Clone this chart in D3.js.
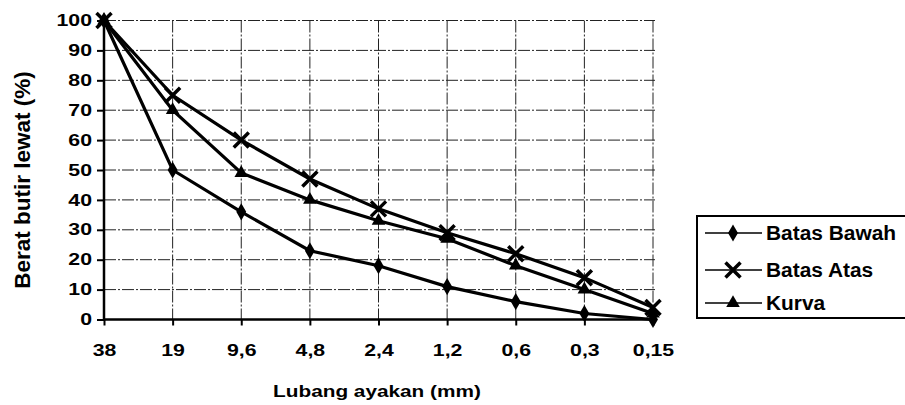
<!DOCTYPE html>
<html>
<head>
	<script src="https://d3js.org/d3.v7.min.js"></script>
	<style>
		body { margin: 0; background: #fff; }
		text { font-family: "Liberation Sans", Arial, sans-serif; font-weight: bold; fill: #000; }
	</style>
</head>
<body>
	<div class="chart"></div>
	<script>
		// data
		var sieves = ["38", "19", "9,6", "4,8", "2,4", "1,2", "0,6", "0,3", "0,15"];
		var batasBawah = [100, 50, 36, 23, 18, 11, 6, 2, 0];
		var batasAtas = [100, 75, 60, 47, 37, 29, 22, 14, 4];
		var kurva = [100, 70, 49, 40, 33, 27, 18, 10, 2];
		var yTicks = [0, 10, 20, 30, 40, 50, 60, 70, 80, 90, 100];
		var seriesNames = ["Batas Bawah", "Batas Atas", "Kurva"];
		var markers = ["diamond", "cross", "triangle"];

		var w = 905, h = 405;
		var svg = d3.select(".chart").append("svg")
			.attr("width", w)
			.attr("height", h);

		var x = d3.scalePoint().domain(sieves).range([104, 653]);
		var y = d3.scaleLinear().domain([0, 100]).range([319.5, 20.5]);

		// the scanned chart has its text stretched sideways
		function stretch(sel, k) {
			sel.each(function() {
				var t = d3.select(this);
				var x0 = +t.attr("x") || 0;
				t.attr("x", x0 / k)
					.attr("transform", "scale(" + k + ",1)");
			});
		}

		// gridlines
		var grid = svg.append("g").attr("class", "grid");
		grid.selectAll(".hg")
			.data(yTicks.filter(function(d) { return d > 0; }))
			.enter().append("line")
			.attr("x1", 104).attr("x2", 655)
			.attr("y1", function(d) { return y(d); })
			.attr("y2", function(d) { return y(d); })
			.attr("stroke", "#222")
			.attr("stroke-width", 1)
			.attr("stroke-dasharray", "12,2,2,2");
		grid.selectAll(".vg")
			.data(sieves.slice(1))
			.enter().append("line")
			.attr("x1", function(d) { return x(d); })
			.attr("x2", function(d) { return x(d); })
			.attr("y1", y(100)).attr("y2", y(0))
			.attr("stroke", "#222")
			.attr("stroke-width", 1)
			.attr("stroke-dasharray", "12,2,2,2");

		// axes
		var yAxis = svg.append("g")
			.attr("transform", "translate(104,0)")
			.call(d3.axisLeft(y).tickValues(yTicks).tickSize(7).tickPadding(5));
		var xAxis = svg.append("g")
			.attr("transform", "translate(0," + y(0) + ")")
			.call(d3.axisBottom(x).tickSize(6).tickPadding(19));
		[yAxis, xAxis].forEach(function(a) {
			a.select(".domain").attr("stroke", "#000").attr("stroke-width", 2.5);
			a.selectAll(".tick line").attr("stroke", "#000").attr("stroke-width", 2);
			a.selectAll(".tick text")
				.style("font-size", "16px")
				.style("font-family", "Liberation Sans, Arial, sans-serif")
				.style("font-weight", "bold");
			stretch(a.selectAll(".tick text"), 1.33);
		});
		xAxis.select(".domain").attr("d", "M104,0H655");
		yAxis.select(".domain").attr("d", "M0," + (y(0) + 1) + "V" + y(100));

		// titles
		var xTitle = svg.append("text")
			.attr("x", 377).attr("y", 397)
			.attr("text-anchor", "middle")
			.style("font-size", "16.5px")
			.text("Lubang ayakan (mm)");
		stretch(xTitle, 1.26);
		svg.append("text")
			.attr("transform", "translate(30,180) rotate(-90)")
			.attr("text-anchor", "middle")
			.style("font-size", "22.5px")
			.text("Berat butir lewat (%)");

		function drawMarker(g, type, cx, cy) {
			if (type == "diamond") {
				g.append("path")
					.attr("d", d3.symbol().type(d3.symbolDiamond).size(85)())
					.attr("transform", "translate(" + cx + "," + cy + ")")
					.attr("fill", "#000");
			} else if (type == "cross") {
				g.append("path")
					.attr("d", "M-7.5,-7.5L7.5,7.5M-7.5,7.5L7.5,-7.5")
					.attr("transform", "translate(" + cx + "," + cy + ")")
					.attr("stroke", "#000")
					.attr("stroke-width", 3.5)
					.attr("fill", "none");
			} else {
				g.append("path")
					.attr("d", d3.symbol().type(d3.symbolTriangle).size(80)())
					.attr("transform", "translate(" + cx + "," + cy + ")")
					.attr("fill", "#000");
			}
		}

		// series
		var line = d3.line()
			.x(function(d, i) { return x(sieves[i]); })
			.y(function(d) { return y(d); });
		[batasBawah, batasAtas, kurva].forEach(function(vals, s) {
			var g = svg.append("g").attr("class", "series");
			g.append("path")
				.attr("d", line(vals))
				.attr("fill", "none")
				.attr("stroke", "#000")
				.attr("stroke-width", 3.2);
			vals.forEach(function(v, i) {
				drawMarker(g, markers[s], x(sieves[i]), y(v));
			});
		});

		// legend
		var lg = svg.append("g").attr("class", "legend");
		lg.append("rect")
			.attr("x", 697).attr("y", 216)
			.attr("width", 220).attr("height", 102)
			.attr("fill", "#fff")
			.attr("stroke", "#000")
			.attr("stroke-width", 2);
		var legendY = [233, 270, 303];
		seriesNames.forEach(function(name, i) {
			var ly = legendY[i];
			lg.append("line")
				.attr("x1", 705).attr("x2", 762)
				.attr("y1", ly).attr("y2", ly)
				.attr("stroke", "#000")
				.attr("stroke-width", 1.5);
			drawMarker(lg, markers[i], 733, ly);
			var t = lg.append("text")
				.attr("x", 766).attr("y", ly + 7)
				.style("font-size", "20.5px")
				.text(name);
			stretch(t, 1.02);
		});
	</script>
</body>
</html>
